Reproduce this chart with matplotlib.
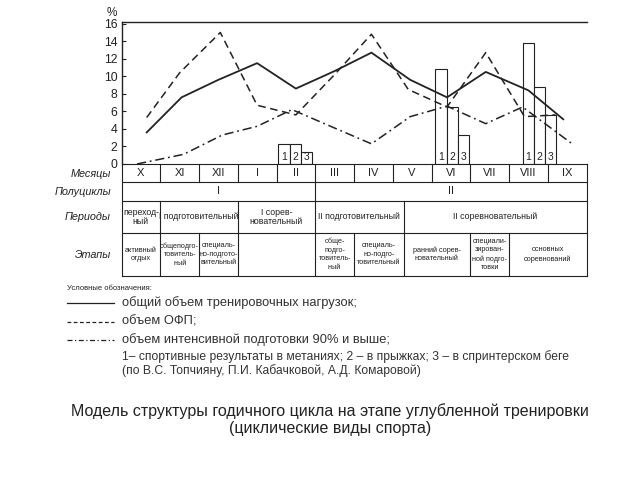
import matplotlib.pyplot as plt
from matplotlib.lines import Line2D

plt.rcParams['font.family'] = ['Liberation Sans', 'DejaVu Sans']

# ---- data ----
months = ["X", "XI", "XII", "I", "II", "III", "IV", "V", "VI", "VII", "VIII", "IX"]

total_x = [0.65, 1.55, 2.5, 3.5, 4.5, 5.5, 6.45, 7.45, 8.4, 9.4, 10.5, 11.4]
total_y = [3.6, 7.6, 9.6, 11.5, 8.6, 10.6, 12.7, 9.6, 7.6, 10.5, 8.4, 5.1]

ofp_x = [0.65, 1.5, 2.55, 3.5, 4.5, 5.5, 6.45, 7.4, 8.4, 9.4, 10.4, 11.2]
ofp_y = [5.3, 10.4, 15.0, 6.7, 5.6, 10.2, 14.8, 8.5, 6.5, 12.7, 5.4, 5.6]

intens_x = [0.4, 1.6, 2.6, 3.5, 4.4, 5.5, 6.45, 7.45, 8.4, 9.4, 10.35, 11.6]
intens_y = [0.0, 1.1, 3.3, 4.3, 6.2, 4.1, 2.3, 5.4, 6.6, 4.6, 6.5, 2.4]

bar_start = [4.05, 8.1, 10.35]
bar_heights = [[2.3, 2.3, 1.4], [10.8, 6.5, 3.3], [13.8, 8.8, 5.6]]
bar_labels = ["1", "2", "3"]

halfcycles = [("I", 0, 5), ("II", 5, 12)]
periods = [("переход-\nный", 0, 1), ("I подготовительный", 1, 3),
           ("I сорев-\nновательный", 3, 5), ("II подготовительный", 5, 7.28),
           ("II соревновательный", 7.28, 12)]
stages = [("активный\nотдых", 0, 1), ("общеподго-\nтовитель-\nный", 1, 2),
          ("специаль-\nно-подгото-\nвительный", 2, 3), ("", 3, 5),
          ("обще-\nподго-\nтовитель-\nный", 5, 6),
          ("специаль-\nно-подго-\nтовительный", 6, 7.28),
          ("ранний сорев-\nновательный", 7.28, 9),
          ("специали-\nзирован-\nной подго-\nтовки", 9, 10),
          ("основных\nсоревнований", 10, 12)]
row_names = ["Месяцы", "Полуциклы", "Периоды", "Этапы"]

W, H = 640, 480
ink = "#222222"

fig = plt.figure(figsize=(6.4, 4.8), dpi=100)


def px_axes(x0, y0, x1, y1):
    # rectangle given in pixel coords from top-left
    return fig.add_axes([x0 / W, 1 - y1 / H, (x1 - x0) / W, (y1 - y0) / H])


# ---- chart ----
ax = px_axes(121.5, 21.5, 586.5, 164)
ax.set_xlim(0, 12)
ax.set_ylim(0, 16.25)
for s in ["right", "bottom"]:
    ax.spines[s].set_visible(False)
for s in ["left", "top"]:
    ax.spines[s].set_color(ink)
    ax.spines[s].set_linewidth(1.0)
ax.set_xticks([])
ax.set_yticks(range(0, 17, 2))
ax.tick_params(axis="y", direction="in", length=3, width=0.8, colors=ink,
               labelsize=8.8, pad=3)

for g, x0 in enumerate(bar_start):
    for k, h in enumerate(bar_heights[g]):
        xb = x0 + k * 0.29
        ax.bar(xb, h, width=0.29, align="edge", facecolor="white",
               edgecolor=ink, linewidth=0.8, zorder=1)
        ax.text(xb + 0.145, 0.75, bar_labels[k], ha="center", va="center",
                fontsize=7.5, color=ink, zorder=4)

ax.plot(total_x, total_y, color=ink, lw=1.3, ls="-", zorder=3)
ax.plot(ofp_x, ofp_y, color=ink, lw=1.1, ls=(0, (5, 3)), zorder=3)
ax.plot(intens_x, intens_y, color=ink, lw=1.1, ls=(0, (6, 2.5, 1.2, 2.5)), zorder=3)
fig.text(112 / W, 1 - 12.5 / H, "%", ha="center", va="center", fontsize=8.5, color=ink)

# ---- table ----
rows = [164, 182, 201, 233, 276]
tx = px_axes(121.5, 164, 586.5, 276)
tx.set_xlim(0, 12)
tx.set_ylim(276, 164)
tx.axis("off")
lw = 0.8
for y in rows:
    tx.plot([0, 12], [y, y], color=ink, lw=lw, clip_on=False)
tx.plot([0, 0], [164, 276], color=ink, lw=lw, clip_on=False)
tx.plot([12, 12], [164, 276], color=ink, lw=lw, clip_on=False)

for i, m in enumerate(months):
    if i > 0:
        tx.plot([i, i], [rows[0], rows[1]], color=ink, lw=lw)
    tx.text(i + 0.5, (rows[0] + rows[1]) / 2, m, ha="center", va="center",
            fontsize=8, color=ink)


def cells(items, y0, y1, size, spacing):
    for label, a, b in items:
        if a > 0:
            tx.plot([a, a], [y0, y1], color=ink, lw=lw)
        tx.text((a + b) / 2, (y0 + y1) / 2, label, ha="center", va="center",
                fontsize=size, color=ink, linespacing=spacing)


cells(halfcycles, rows[1], rows[2], 8, 1.0)
cells(periods, rows[2], rows[3], 6.3, 1.05)
cells(stages, rows[3], rows[4], 5.2, 1.3)

for name, y in zip(row_names, [174, 192, 217, 255]):
    fig.text(111 / W, 1 - y / H, name, ha="right", va="center", fontsize=7.8,
             style="italic", color=ink)

# ---- legend ----
fig.text(67 / W, 1 - 288 / H, "Условные обозначения:", fontsize=5.5,
         va="center", color=ink)
leg = [("-", "общий объем тренировочных нагрузок;", 303),
       ((0, (3, 2)), "объем ОФП;", 322),
       ((0, (4, 2, 1, 2)), "объем интенсивной подготовки 90% и выше;", 340)]
for ls, label, y in leg:
    fig.add_artist(Line2D([67 / W, 114 / W], [1 - y / H, 1 - y / H],
                          color=ink, lw=0.9, ls=ls))
    fig.text(122 / W, 1 - y / H, label, fontsize=9.3, va="center", color="#333333")
fig.text(122 / W, 1 - 357 / H,
         "1– спортивные результаты в метаниях; 2 – в прыжках; 3 – в спринтерском беге",
         fontsize=8.7, va="center", color="#333333")
fig.text(122 / W, 1 - 371 / H,
         "(по В.С. Топчияну, П.И. Кабачковой, А.Д. Комаровой)",
         fontsize=8.7, va="center", color="#333333")

# ---- caption ----
fig.text(330 / W, 1 - 411 / H,
         "Модель структуры годичного цикла на этапе углубленной тренировки",
         ha="center", va="center", fontsize=11.5, color="#222222")
fig.text(330 / W, 1 - 428 / H, "(циклические виды спорта)",
         ha="center", va="center", fontsize=11.5, color="#222222")

fig.savefig("out.png", dpi=100)
